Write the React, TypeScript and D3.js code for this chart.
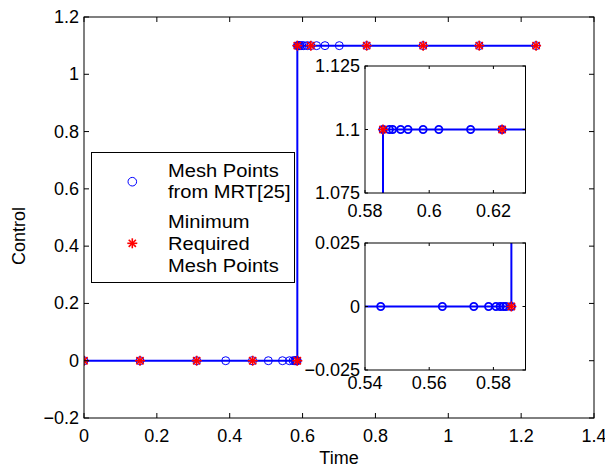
import React from "react";
import * as d3 from "d3";

// ---- data ----
const lineTimes = [0, 0.5856, 0.5856, 1.241];
const lineValues = [0, 0, 1.1, 1.1];

const mrtTimes = [
  0, 0.1537, 0.3093, 0.389, 0.463, 0.506, 0.5449, 0.5641, 0.5739, 0.5785, 0.5808, 0.5821, 0.5831, 0.5839, 0.5856,
  0.5856, 0.5876, 0.5886, 0.5911, 0.5934, 0.5981, 0.603, 0.6129, 0.6227, 0.6385, 0.6615, 0.7008, 0.776, 0.931, 1.085, 1.241,
];
const mrtValues = [
  0, 0, 0, 0, 0, 0, 0, 0, 0, 0, 0, 0, 0, 0, 0,
  1.1, 1.1, 1.1, 1.1, 1.1, 1.1, 1.1, 1.1, 1.1, 1.1, 1.1, 1.1, 1.1, 1.1, 1.1, 1.1,
];
const minTimes = [0, 0.1537, 0.3093, 0.463, 0.5856, 0.5856, 0.6227, 0.776, 0.931, 1.085, 1.241];
const minValues = [0, 0, 0, 0, 0, 1.1, 1.1, 1.1, 1.1, 1.1, 1.1];

const mainXTicks = [0, 0.2, 0.4, 0.6, 0.8, 1, 1.2, 1.4];
const mainYTicks = [-0.2, 0, 0.2, 0.4, 0.6, 0.8, 1, 1.2];
const inset1XTicks = [0.58, 0.6, 0.62];
const inset1YTicks = [1.075, 1.1, 1.125];
const inset2XTicks = [0.54, 0.56, 0.58];
const inset2YTicks = [-0.025, 0, 0.025];

const legendLabels = [["Mesh Points", "from MRT[25]"], ["Minimum", "Required", "Mesh Points"]];

const FONT = "'Liberation Sans', Arial, Helvetica, sans-serif";
const FS = 18;
const fmt = (v: number) => {
  const s = String(+v.toFixed(4));
  return v < 0 ? "\u2212" + s.slice(1) : s;
};

function Star({ x, y, s = 5, sw = 1.5 }: { x: number; y: number; s?: number; sw?: number }) {
  const d = s * 0.72;
  return (
    <g stroke="#ff0000" strokeWidth={sw} fill="none">
      <line x1={x - s} y1={y} x2={x + s} y2={y} />
      <line x1={x} y1={y - s} x2={x} y2={y + s} />
      <line x1={x - d} y1={y - d} x2={x + d} y2={y + d} />
      <line x1={x - d} y1={y + d} x2={x + d} y2={y - d} />
    </g>
  );
}

type PanelProps = {
  id: string;
  xDomain: [number, number];
  yDomain: [number, number];
  xRange: [number, number];
  yRange: [number, number];
  xTicks: number[];
  yTicks: number[];
  tickLen: number;
  xLabelY: number;
  circleR: number;
  circleW: number;
  starS: number;
};

function Panel(p: PanelProps) {
  const x = d3.scaleLinear().domain(p.xDomain).range(p.xRange);
  const y = d3.scaleLinear().domain(p.yDomain).range(p.yRange);
  const [x0, x1] = p.xRange;
  const [y0, y1] = p.yRange; // y0 bottom, y1 top
  const line = d3
    .line<number>()
    .x((i) => x(lineTimes[i]))
    .y((i) => y(lineValues[i]));
  const idx = lineTimes.map((_, i) => i);
  return (
    <g>
      <defs>
        <clipPath id={p.id}>
          <rect x={x0} y={y1} width={x1 - x0} height={y0 - y1} />
        </clipPath>
      </defs>
      <rect x={x0} y={y1} width={x1 - x0} height={y0 - y1} fill="#fff" />
      <g clipPath={`url(#${p.id})`}>
        <path d={line(idx) || ""} fill="none" stroke="#0000ff" strokeWidth={2} />
        {mrtTimes.map((t, i) => (
          <circle key={"c" + i} cx={x(t)} cy={y(mrtValues[i])} r={p.circleR} fill="none" stroke="#0000ff" strokeWidth={p.circleW} />
        ))}
        {minTimes.map((t, i) => (
          <Star key={"s" + i} x={x(t)} y={y(minValues[i])} s={p.starS} sw={1.6} />
        ))}
      </g>
      <rect x={x0} y={y1} width={x1 - x0} height={y0 - y1} fill="none" stroke="#000" strokeWidth={1} />
      {p.xTicks.map((t) => (
        <g key={"xt" + t}>
          <line x1={x(t)} x2={x(t)} y1={y0} y2={y0 - p.tickLen} stroke="#000" />
          <line x1={x(t)} x2={x(t)} y1={y1} y2={y1 + p.tickLen} stroke="#000" />
          <text x={x(t)} y={p.xLabelY} textAnchor="middle" dominantBaseline="central" fontFamily={FONT} fontSize={FS}>
            {fmt(t)}
          </text>
        </g>
      ))}
      {p.yTicks.map((t) => (
        <g key={"yt" + t}>
          <line x1={x0} x2={x0 + p.tickLen} y1={y(t)} y2={y(t)} stroke="#000" />
          <line x1={x1} x2={x1 - p.tickLen} y1={y(t)} y2={y(t)} stroke="#000" />
          <text x={x0 - 5} y={y(t)} textAnchor="end" dominantBaseline="central" fontFamily={FONT} fontSize={FS}>
            {fmt(t)}
          </text>
        </g>
      ))}
    </g>
  );
}

export default function App() {
  const legX = 91.5, legY = 152.5, legW = 203, legH = 130;
  const textX = 168;
  const lineYs = [[170.7, 191.7], [221, 243.3, 265]];
  return (
    <svg width={605} height={468} style={{ position: "absolute", left: 0, top: 0, background: "#fff" }}>
      <rect width={605} height={468} fill="#fff" />
      <Panel id="main" xDomain={[0, 1.4]} yDomain={[-0.2, 1.2]} xRange={[84, 594]} yRange={[418, 17]}
        xTicks={mainXTicks} yTicks={mainYTicks} tickLen={5} xLabelY={436} circleR={4} circleW={1} starS={5} />
      <text x={339} y={458} textAnchor="middle" dominantBaseline="central" fontFamily={FONT} fontSize={FS}>Time</text>
      <text transform="translate(19,236) rotate(-90)" textAnchor="middle" dominantBaseline="central" fontFamily={FONT} fontSize={FS}>Control</text>

      <Panel id="in1" xDomain={[0.58, 0.63]} yDomain={[1.075, 1.125]} xRange={[365, 525.5]} yRange={[193, 66]}
        xTicks={inset1XTicks} yTicks={inset1YTicks} tickLen={3} xLabelY={211} circleR={3.6} circleW={1.8} starS={5} />
      <Panel id="in2" xDomain={[0.54, 0.59]} yDomain={[-0.025, 0.025]} xRange={[365, 525.5]} yRange={[370, 243]}
        xTicks={inset2XTicks} yTicks={inset2YTicks} tickLen={3} xLabelY={383} circleR={3.6} circleW={1.8} starS={5} />

      <rect x={legX} y={legY} width={legW} height={legH} fill="#fff" stroke="#000" strokeWidth={1} />
      <circle cx={132.3} cy={181.7} r={4.3} fill="none" stroke="#0000ff" strokeWidth={1} />
      <Star x={132.3} y={243.3} s={5} sw={1.6} />
      {legendLabels.map((lines, k) =>
        lines.map((s, j) => (
          <text key={k + "-" + j} transform={`translate(${textX},${lineYs[k][j]}) scale(1.06,1)`} dominantBaseline="central" fontFamily={FONT} fontSize={19}>
            {s}
          </text>
        ))
      )}
    </svg>
  );
}
